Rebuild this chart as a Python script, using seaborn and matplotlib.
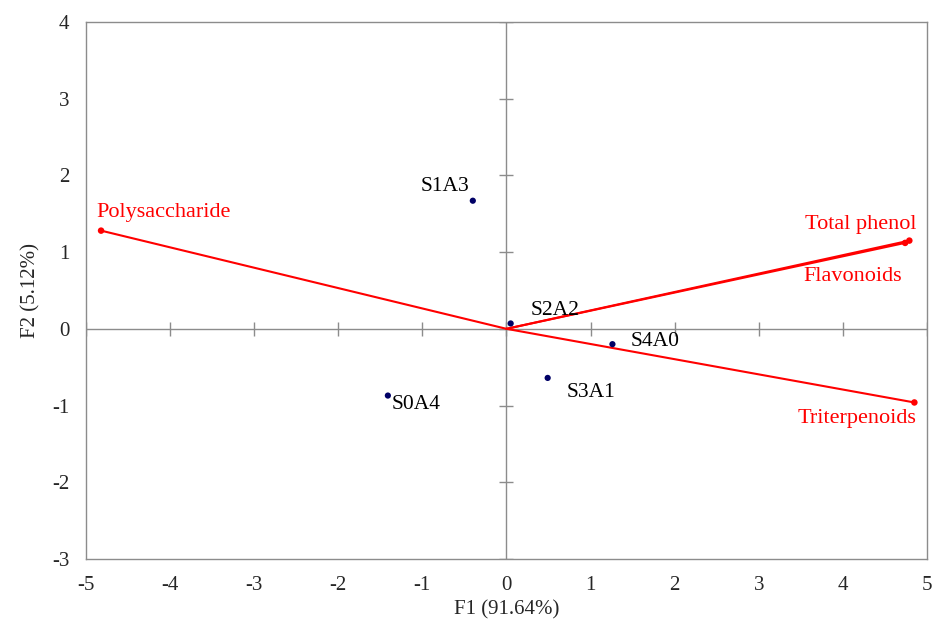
import pandas as pd
import matplotlib.pyplot as plt
import seaborn as sns

# Observation scores (F1, F2)
samples = ['S1A3', 'S2A2', 'S4A0', 'S3A1', 'S0A4']
f1_scores = [-0.40, 0.05, 1.26, 0.49, -1.41]
f2_scores = [1.67, 0.07, -0.20, -0.64, -0.87]

# Variable loadings (scaled)
variables = ['Polysaccharide', 'Total phenol', 'Flavonoids', 'Triterpenoids']
f1_vars = [-4.82, 4.79, 4.74, 4.85]
f2_vars = [1.28, 1.15, 1.12, -0.96]

xticks = [-5, -4, -3, -2, -1, 0, 1, 2, 3, 4, 5]
yticks = [-3, -2, -1, 0, 1, 2, 3, 4]

scores = pd.DataFrame({'sample': samples, 'F1': f1_scores, 'F2': f2_scores})
loads = pd.DataFrame({'var': variables, 'F1': f1_vars, 'F2': f2_vars})

sns.set_style('white')
plt.rcParams['font.family'] = ['Liberation Serif', 'DejaVu Serif']
plt.rcParams['axes.unicode_minus'] = False

fig = plt.figure(figsize=(9.34, 6.19), dpi=100)
ax = fig.add_axes([0.092, 0.097, 0.9005, 0.8675])

grey = '#8c8c8c'
# centre cross lines with tick marks
ax.axhline(0, color=grey, lw=1, zorder=1)
ax.axvline(0, color=grey, lw=1, zorder=1)
ax.plot(xticks, [0] * len(xticks), ls='none', marker='|', ms=10, mew=1, color=grey, zorder=1)
ax.plot([0] * len(yticks), yticks, ls='none', marker='_', ms=10, mew=1, color=grey, zorder=1)

# variable vectors
for _, r in loads.iterrows():
    ax.plot([0, r['F1']], [0, r['F2']], color='red', lw=1.5, zorder=2)
sns.scatterplot(data=loads, x='F1', y='F2', color='red', s=22, edgecolor='none', ax=ax, zorder=3)

# sample points
sns.scatterplot(data=scores, x='F1', y='F2', color='#000066', s=20, edgecolor='none', ax=ax, zorder=4)

# labels (offsets in pixels)
score_off = {'S1A3': (-3, 14, 'right'), 'S2A2': (20, 13, 'left'), 'S4A0': (18, 3, 'left'),
             'S3A1': (19, -15, 'left'), 'S0A4': (4, -9, 'left')}
for _, r in scores.iterrows():
    dx, dy, ha = score_off[r['sample']]
    ax.annotate(r['sample'], (r['F1'], r['F2']), xytext=(dx, dy), textcoords='offset pixels',
                ha=ha, va='center', fontsize=15.5, color='black')

var_off = {'Polysaccharide': (-5, 18, 'left'), 'Total phenol': (7, 16, 'right'),
           'Flavonoids': (-3, -34, 'right'), 'Triterpenoids': (2, -16, 'right')}
for _, r in loads.iterrows():
    dx, dy, ha = var_off[r['var']]
    ax.annotate(r['var'], (r['F1'], r['F2']), xytext=(dx, dy), textcoords='offset pixels',
                ha=ha, va='center', fontsize=16, color='red')

ax.set_xlim(-5, 5)
ax.set_ylim(-3, 4)
ax.set_xticks(xticks)
ax.set_yticks(yticks)
ax.tick_params(length=0, labelsize=15, pad=12)
for s in ax.spines.values():
    s.set_color(grey)
    s.set_linewidth(1)
ax.set_xlabel('F1 (91.64%)', fontsize=15, labelpad=4)
ax.set_ylabel('F2 (5.12%)', fontsize=15, labelpad=8)

fig.savefig('out.png', dpi=100)
